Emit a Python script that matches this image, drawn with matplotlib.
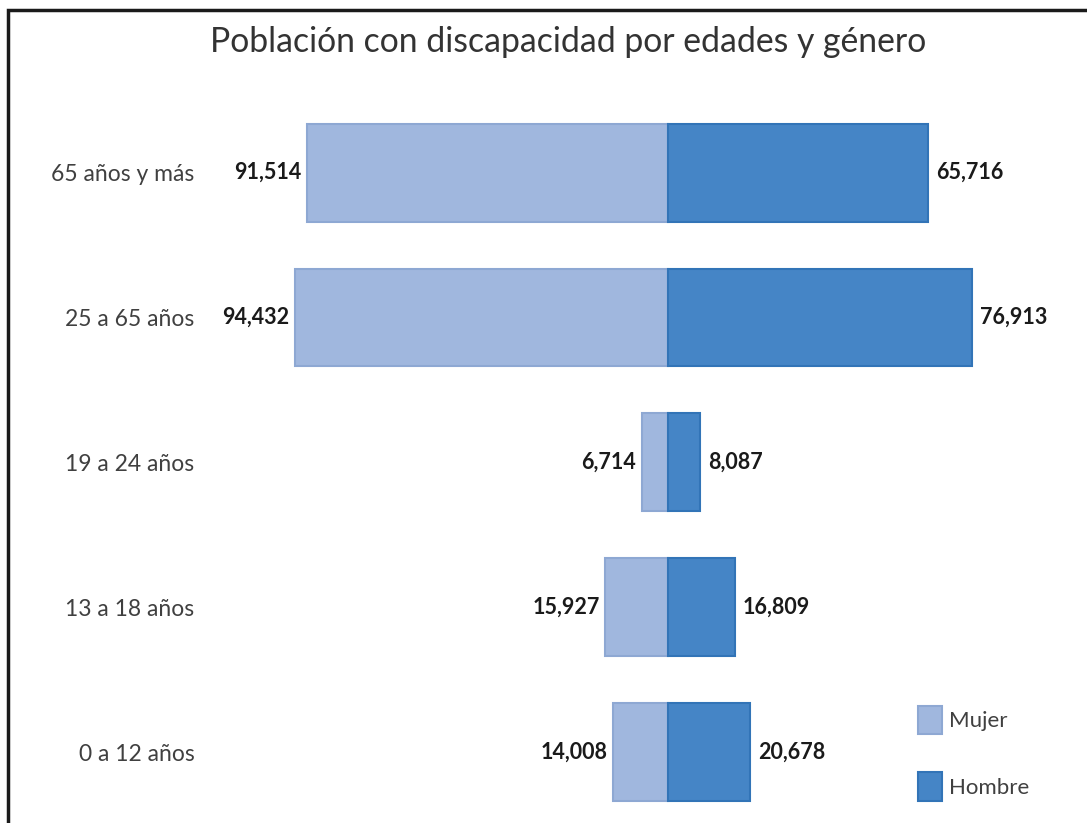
import matplotlib
matplotlib.use("Agg")
import matplotlib.pyplot as plt
from matplotlib.patches import Rectangle, Patch

categories = ["0 a 12 años", "13 a 18 años", "19 a 24 años", "25 a 65 años", "65 años y más"]
mujer = [14008, 15927, 6714, 94432, 91514]
hombre = [20678, 16809, 8087, 76913, 65716]
title = "Población con discapacidad por edades y género"

FONT = ["Lato", "DejaVu Sans"]
plt.rcParams["font.family"] = FONT

W, H = 1087, 823
fig = plt.figure(figsize=(W / 100, H / 100), dpi=100)

# outer frame
fig.patches.append(Rectangle((8 / W, -0.1), 1.2, 1 - 10 / H + 0.1, transform=fig.transFigure,
                             fill=False, edgecolor="#1a1a1a", linewidth=2.5, zorder=0))

ax = fig.add_axes([214 / W, 0, (1075 - 214) / W, (823 - 93) / H])
ypos = list(range(len(categories)))
light, light_e = "#A0B7DE", "#8EA8D3"
dark, dark_e = "#4585C6", "#3274B7"
bh = 0.675
ax.barh(ypos, [-v for v in mujer], height=bh, color=light, edgecolor=light_e, linewidth=1.5)
ax.barh(ypos, hombre, height=bh, color=dark, edgecolor=dark_e, linewidth=1.5)

for y, v in zip(ypos, mujer):
    ax.annotate(f"{v:,}", (-v, y), xytext=(-4, 0), textcoords="offset points",
                ha="right", va="center", fontsize=15.5, fontweight="bold", color="#1a1a1a")
for y, v in zip(ypos, hombre):
    ax.annotate(f"{v:,}", (v, y), xytext=(6, 0), textcoords="offset points",
                ha="left", va="center", fontsize=15.5, fontweight="bold", color="#1a1a1a")

ax.set_xlim(-115000, 103000)
ax.set_ylim(-0.49, 4.55)
ax.set_yticks(ypos)
ax.set_yticklabels(categories, fontsize=16.5, color="#404040")
ax.tick_params(axis="y", length=0, pad=14)
ax.set_xticks([])
for s in ax.spines.values():
    s.set_visible(False)

fig.text(568 / W, 1 - 42 / H, title, ha="center", va="center", fontsize=24.3, color="#333333")

handles = [Patch(facecolor=light, edgecolor=light_e, linewidth=1.5, label="Mujer"),
           Patch(facecolor=dark, edgecolor=dark_e, linewidth=1.5, label="Hombre")]
fig.legend(handles=handles, loc="upper left", bbox_to_anchor=(909 / W, 1 - 697 / H), frameon=False,
           fontsize=16, handlelength=1.1, handleheight=1.6, labelspacing=1.7, handletextpad=0.3,
           borderaxespad=0, borderpad=0.4, labelcolor="#404040")

fig.savefig("out.png", dpi=100)
